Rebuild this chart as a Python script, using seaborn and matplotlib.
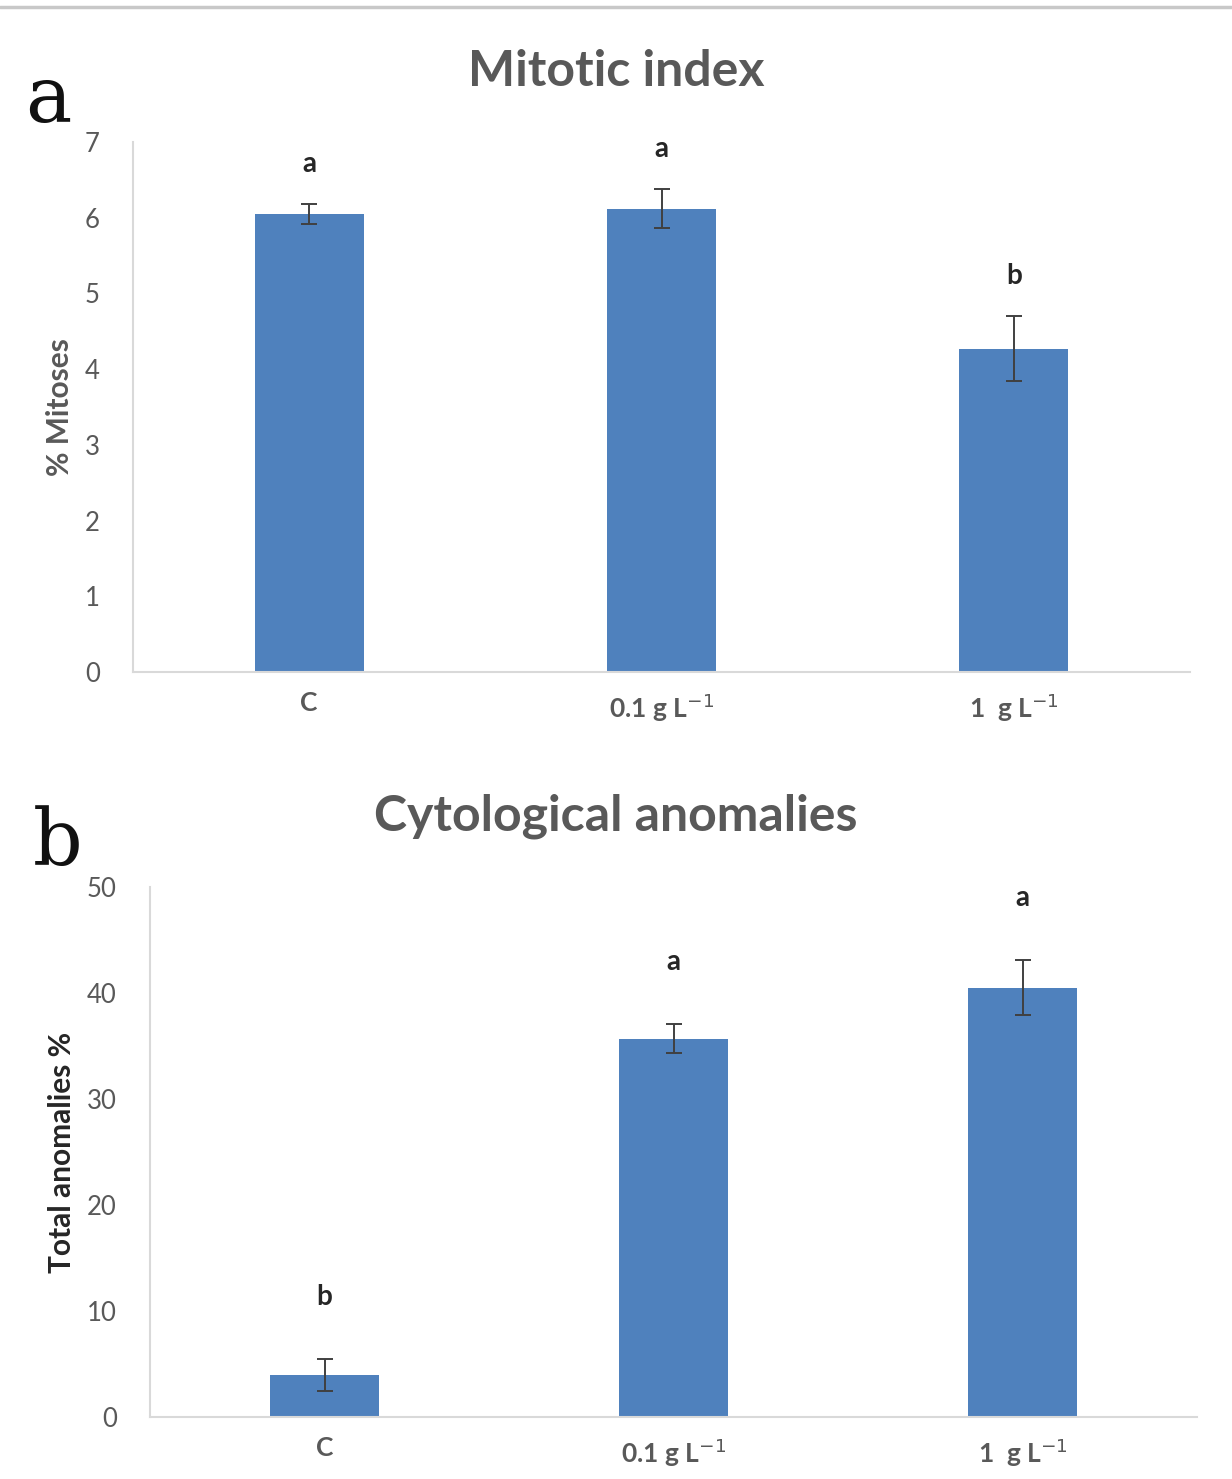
import numpy as np
import pandas as pd
import matplotlib
matplotlib.use("Agg")
import matplotlib.pyplot as plt
import seaborn as sns

# ---- data ----
categories = ["C", "0.1 g L$^{-1}$", "1  g L$^{-1}$"]
mitotic_index = [6.05, 6.12, 4.27]
mitotic_err = [0.13, 0.26, 0.43]
mitotic_letters = ["a", "a", "b"]

anomalies = [4.0, 35.7, 40.5]
anomalies_err = [1.5, 1.4, 2.6]
anomalies_letters = ["b", "a", "a"]

sns.set_theme(style="white")
plt.rcParams['font.family'] = ['Lato', 'DejaVu Sans']

BAR = "#4F81BD"
AXC = "#D9D9D9"
TXT = "#595959"

fig = plt.figure(figsize=(12.32, 14.79), dpi=100)

# top border line
fig.add_artist(plt.Line2D([0.0, 1.0], [1 - 7 / 1479, 1 - 7 / 1479], color="#C8C8C8", lw=2.5,
                          transform=fig.transFigure))

def panel(rect, vals, errs, letters, ymax, ystep, letter_off, ylabel, ylabel_color, title, tag, tagpos, titley):
    ax = fig.add_axes(rect)
    df = pd.DataFrame({"cat": categories, "val": vals})
    sns.barplot(data=df, x="cat", y="val", color=BAR, width=0.31, saturation=1,
                edgecolor="none", ax=ax)
    x = np.arange(len(categories))
    ax.errorbar(x, vals, yerr=errs, fmt="none", ecolor="#404040", elinewidth=1.4,
                capsize=5.5, capthick=1.4)
    for xi, v, e, l in zip(x, vals, errs, letters):
        ax.text(xi, v + e + letter_off, l, ha="center", va="bottom", fontsize=20,
                color="#262626", fontweight="bold")
    ax.set_xlim(-0.5, 2.5)
    ax.set_ylim(0, ymax)
    ax.set_yticks(np.arange(0, ymax + 0.001, ystep))
    ax.set_yticklabels([f"{int(t)}" for t in np.arange(0, ymax + 0.001, ystep)])
    for s in ["top", "right"]:
        ax.spines[s].set_visible(False)
    for s in ["left", "bottom"]:
        ax.spines[s].set_color(AXC)
        ax.spines[s].set_linewidth(1.5)
    ax.tick_params(axis="y", length=0, labelsize=18.5, labelcolor=TXT, pad=24)
    ax.tick_params(axis="x", length=0, labelsize=19, labelcolor=TXT, pad=14)
    for lab in ax.get_xticklabels():
        lab.set_fontweight("bold")
    ax.set_xlabel("")
    ax.set_ylabel(ylabel, fontsize=21.5, fontweight="bold", color=ylabel_color, labelpad=8)
    fig.text(0.5, titley, title, ha="center", va="center", fontsize=36, fontweight="bold",
             color=TXT)
    fig.text(tagpos[0], tagpos[1], tag, ha="center", va="center", fontsize=56,
             family="DejaVu Serif", color="#111111")
    ax.grid(False)
    return ax

panel([133 / 1232, 1 - 672 / 1479, (1190 - 133) / 1232, (672 - 142) / 1479],
      mitotic_index, mitotic_err, mitotic_letters, 7, 1, 0.36,
      "% Mitoses", TXT, "Mitotic index", "a", (48 / 1232, 1 - 100 / 1479), 1 - 72 / 1479)

panel([150 / 1232, 1 - 1417 / 1479, (1197 - 150) / 1232, (1417 - 887) / 1479],
      anomalies, anomalies_err, anomalies_letters, 50, 10, 4.6,
      "Total anomalies %", "#262626", "Cytological anomalies", "b", (58 / 1232, 1 - 843 / 1479),
      1 - 816 / 1479)

fig.savefig("out.png", dpi=100, facecolor="white")
